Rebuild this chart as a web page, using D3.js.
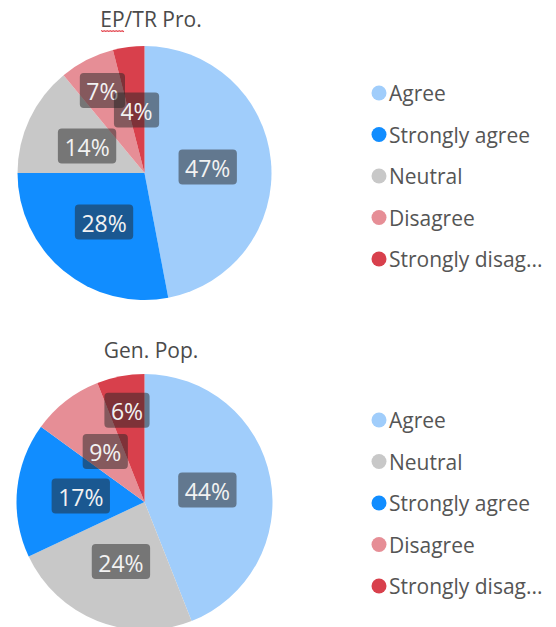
<!DOCTYPE html>
<html>
<head>
<meta charset="utf-8">
<script src="https://cdn.jsdelivr.net/npm/d3@7"></script>
<style>
  html, body { margin: 0; padding: 0; background: #ffffff; }
  svg { display: block; }
  text { font-family: "Open Sans", "Noto Sans", sans-serif; }
</style>
</head>
<body>
<svg id="chart" width="556" height="627"></svg>
<script>
// Survey response categories and their shares (%)
const categories = ["Agree", "Strongly agree", "Neutral", "Disagree", "Strongly disagree"];
const epTrValues = [47, 28, 14, 7, 4];
const genPopValues = [44, 17, 24, 9, 6];
const chartTitles = ["EP/TR Pro.", "Gen. Pop."];

const color = d3.scaleOrdinal()
  .domain(categories)
  .range(["#a0cdfb", "#118dff", "#c8c8c8", "#e68e96", "#d8404c"]);

const svg = d3.select("#chart");

const panels = [
  { title: chartTitles[0], values: epTrValues, cx: 144.5, cy: 173, r: 127, titleY: 27, legendY: 93 },
  { title: chartTitles[1], values: genPopValues, cx: 144.5, cy: 502, r: 128, titleY: 358, legendY: 420 }
];

const pie = d3.pie().value(d => d.value).sort((a, b) => b.value - a.value);

function overlaps(a, b) {
  return a.x < b.x + b.w && b.x < a.x + a.w && a.y < b.y + b.h && b.y < a.y + a.h;
}

panels.forEach((p, pi) => {
  const data = categories.map((c, i) => ({ category: c, value: p.values[i] }));
  // slices in drawing order (largest first, clockwise from 12 o'clock)
  const arcs = pie(data).sort((a, b) => a.startAngle - b.startAngle);
  const g = svg.append("g");

  // title
  const title = g.append("text")
    .attr("x", 151)
    .attr("y", p.titleY)
    .attr("text-anchor", "middle")
    .attr("font-size", 21)
    .attr("fill", "#4a4a4a")
    .text(p.title);

  // spell-check squiggle under the first word of the top title
  if (pi === 0) {
    const bb = title.node().getBBox();
    const x0 = bb.x + 1, x1 = x0 + 23, yy = p.titleY + 3.5;
    const pts = d3.range(x0, x1 + 0.01, 1.5).map((x, k) => [x, yy + (k % 2 ? 1.3 : -0.2)]);
    g.append("path")
      .attr("d", d3.line().curve(d3.curveBasis)(pts))
      .attr("fill", "none")
      .attr("stroke", "#e0303a")
      .attr("stroke-width", 1.2);
  }

  const pieG = g.append("g").attr("transform", `translate(${p.cx},${p.cy})`);
  const arc = d3.arc().innerRadius(0).outerRadius(p.r);

  pieG.selectAll("path.slice")
    .data(arcs)
    .join("path")
    .attr("class", "slice")
    .attr("d", arc)
    .attr("fill", d => color(d.data.category));

  // data labels: inner ring first, pushed outward when they collide with an inner label
  const innerArc = d3.arc().innerRadius(p.r * 0.5).outerRadius(p.r * 0.5);
  const outerArc = d3.arc().innerRadius(p.r * 0.73).outerRadius(p.r * 0.73);
  const innerBoxes = [];
  const labelG = pieG.append("g");

  arcs.forEach(d => {
    const lg = labelG.append("g");
    const t = lg.append("text")
      .attr("text-anchor", "middle")
      .attr("dominant-baseline", "central")
      .attr("font-size", 23)
      .attr("fill", "#f2f2f2")
      .text(d3.format(".0f")(d.data.value) + "%");
    const tw = t.node().getComputedTextLength();
    const w = tw + 13, h = 35;
    let [x, y] = innerArc.centroid(d);
    let box = { x: x - w / 2, y: y - h / 2, w, h };
    if (innerBoxes.some(b => overlaps(b, box))) {
      [x, y] = outerArc.centroid(d);
      box = { x: x - w / 2, y: y - h / 2, w, h };
    } else {
      innerBoxes.push(box);
    }
    lg.insert("rect", "text")
      .attr("x", box.x).attr("y", box.y)
      .attr("width", w).attr("height", h)
      .attr("rx", 4)
      .attr("fill", "rgba(35,35,35,0.5)");
    t.attr("x", x).attr("y", y + 1);
  });

  // legend
  const legend = g.append("g").attr("transform", `translate(379,${p.legendY})`);
  const items = legend.selectAll("g.item")
    .data(arcs)
    .join("g")
    .attr("class", "item")
    .attr("transform", (d, i) => `translate(0,${i * 41.5})`);
  items.append("circle")
    .attr("r", 7.5)
    .attr("fill", d => color(d.data.category));
  items.append("text")
    .attr("x", 10)
    .attr("dominant-baseline", "central")
    .attr("font-size", 21)
    .attr("fill", "#555555")
    .each(function(d) {
      const el = d3.select(this);
      const full = d.data.category;
      el.text(full);
      const maxW = 158;
      if (this.getComputedTextLength() > maxW) {
        let s = full;
        while (s.length > 1) {
          s = s.slice(0, -1);
          el.text(s + "...");
          if (this.getComputedTextLength() <= maxW) break;
        }
      }
    });
});
</script>
</body>
</html>
